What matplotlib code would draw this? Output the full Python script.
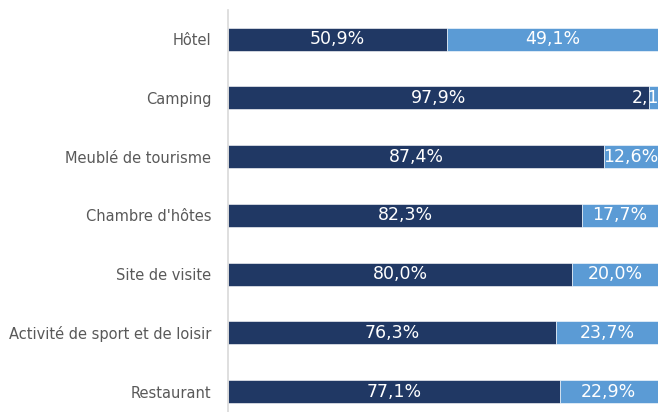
import matplotlib
matplotlib.use("Agg")
import matplotlib.pyplot as plt

# Data
categories = ['Hôtel', 'Camping', 'Meublé de tourisme', "Chambre d'hôtes",
              'Site de visite', 'Activité de sport et de loisir', 'Restaurant']
part_a = [50.9, 97.9, 87.4, 82.3, 80.0, 76.3, 77.1]
part_b = [49.1, 2.1, 12.6, 17.7, 20.0, 23.7, 22.9]

dark = '#203864'
light = '#5B9BD5'

plt.rcParams['font.family'] = ['DejaVu Sans']

fig = plt.figure(figsize=(6.58, 4.12), dpi=100)
ax = fig.add_axes([228 / 658, -9 / 412, 430 / 658, 411.3 / 412])

y = list(range(len(categories)))
bars_a = ax.barh(y, part_a, height=0.39, color=dark, edgecolor='white', linewidth=0.4)
bars_b = ax.barh(y, part_b, left=part_a, height=0.39, color=light, edgecolor='white', linewidth=0.4)

def fmt(v):
    return f"{v:.1f}%".replace('.', ',')

for bars, vals, lefts in [(bars_a, part_a, [0] * len(part_a)), (bars_b, part_b, part_a)]:
    for i, v in enumerate(vals):
        ax.text(lefts[i] + v / 2, y[i], fmt(v), ha='center', va='center',
                color='white', fontsize=12.5, clip_on=False)

ax.set_xlim(0, 100)
ax.set_ylim(len(categories) - 0.5, -0.5)
ax.set_yticks(y)
ax.set_yticklabels(categories, fontsize=10.5, color='#595959')
ax.tick_params(axis='y', length=0, pad=12)
ax.set_xticks([])

for s in ['top', 'right', 'bottom']:
    ax.spines[s].set_visible(False)
ax.spines['left'].set_color('#D9D9D9')
ax.spines['left'].set_linewidth(1.2)

fig.savefig('out.png', dpi=100)
